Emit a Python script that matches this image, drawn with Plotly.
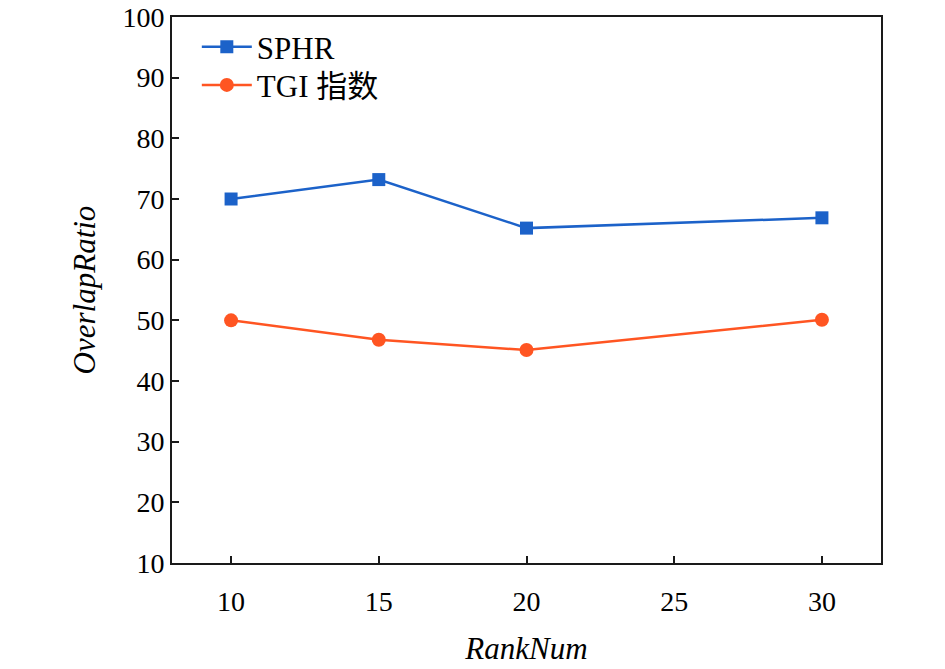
import plotly.graph_objects as go

# Данные
rank_num = [10, 15, 20, 30]
sphr = [70.0, 73.2, 65.2, 66.9]
tgi = [50.0, 46.8, 45.1, 50.1]

x_ticks = [10, 15, 20, 25, 30]
y_ticks = [10, 20, 30, 40, 50, 60, 70, 80, 90, 100]

BLUE = "#1c62c9"
ORANGE = "#ff5522"
FONT = "Liberation Serif, Noto Sans CJK SC, serif"

fig = go.Figure()

# Линия SPHR (квадратные маркеры)
fig.add_trace(
    go.Scatter(
        x=rank_num,
        y=sphr,
        name="SPHR",
        mode="lines+markers",
        line=dict(color=BLUE, width=2.5),
        marker=dict(symbol="square", size=13, color=BLUE),
        legend="legend",
    )
)
# Линия TGI (круглые маркеры)
fig.add_trace(
    go.Scatter(
        x=rank_num,
        y=tgi,
        name="TGI 指数",
        mode="lines+markers",
        line=dict(color=ORANGE, width=2.5),
        marker=dict(symbol="circle", size=14, color=ORANGE),
        legend="legend2",
    )
)

axis_common = dict(
    showline=True,
    linecolor="#1a1a1a",
    linewidth=2,
    mirror=True,
    showgrid=False,
    zeroline=False,
    automargin=False,
    ticklabeloverflow="allow",
    ticks="inside",
    ticklen=7,
    tickwidth=2,
    tickcolor="#1a1a1a",
    tickfont=dict(family=FONT, size=28, color="black"),
)

legend_common = dict(
    x=0.035,
    xanchor="left",
    yanchor="middle",
    bgcolor="rgba(0,0,0,0)",
    font=dict(family=FONT, size=31, color="black"),
    itemwidth=50,
)

fig.update_layout(
    width=945,
    height=669,
    margin=dict(l=172, r=64, t=17, b=106),
    plot_bgcolor="white",
    paper_bgcolor="white",
    font=dict(family=FONT, color="black"),
    showlegend=True,
    legend=dict(y=0.945, **legend_common),
    legend2=dict(y=0.875, **legend_common),
    xaxis=dict(
        range=[8, 32],
        tickvals=x_ticks,
        ticklabelstandoff=12,
        title=dict(text="<i>RankNum</i>", font=dict(family=FONT, size=31), standoff=22),
        **axis_common,
    ),
    yaxis=dict(
        range=[10, 100],
        tickvals=y_ticks,
        title=dict(text="<i>OverlapRatio</i>", font=dict(family=FONT, size=31), standoff=18),
        **axis_common,
    ),
)

# убираем отступы body, чтобы фигура стояла в углу окна
fig.write_html(
    "out.html",
    config={"displayModeBar": False},
    post_script="document.body.style.margin='0';",
)
